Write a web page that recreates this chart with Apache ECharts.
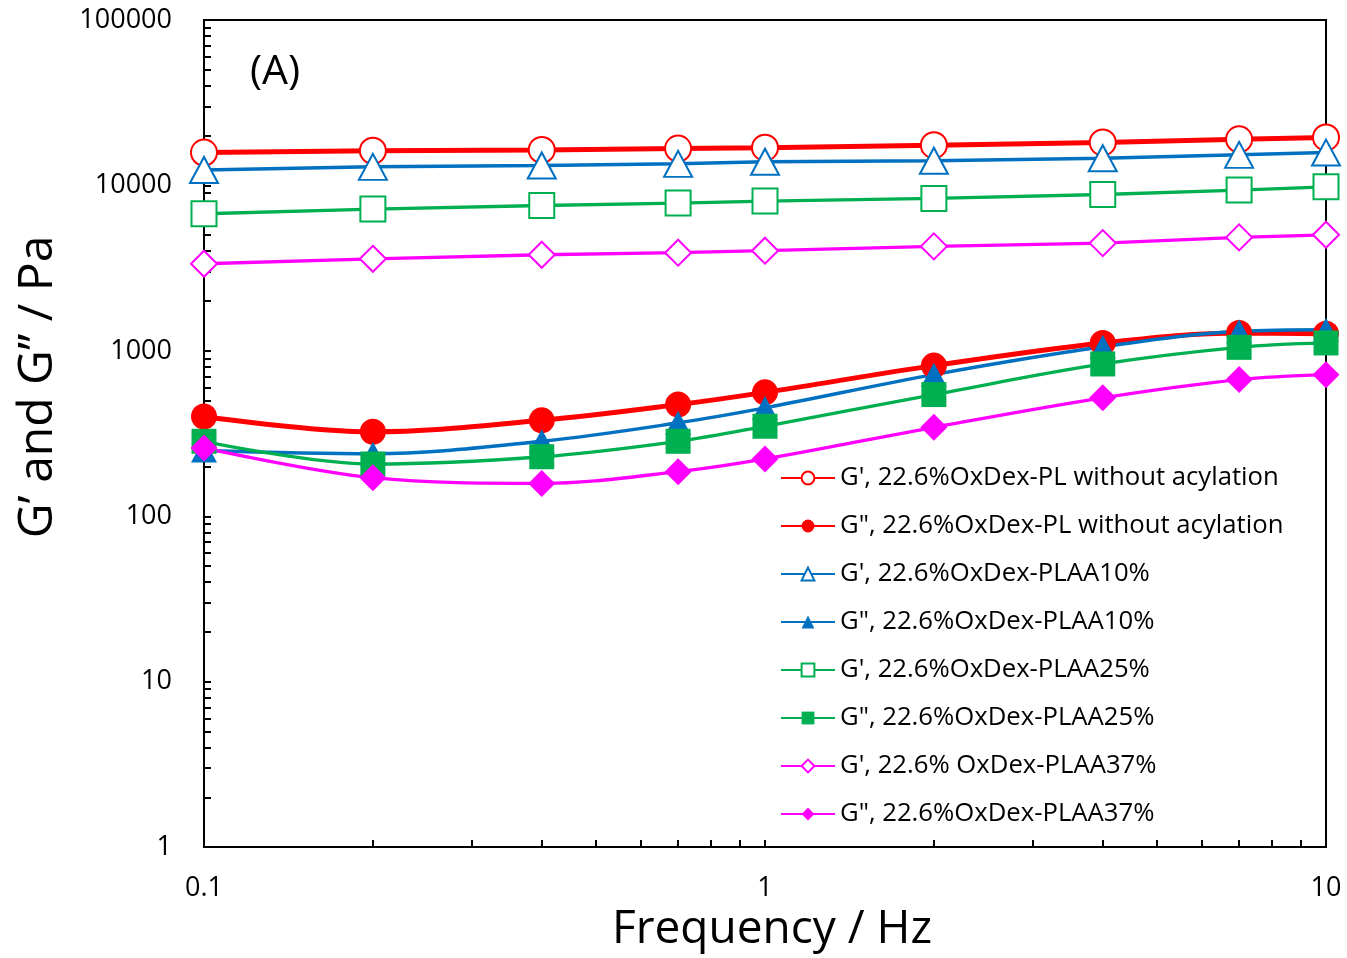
<!DOCTYPE html>
<html>
<head>
<meta charset="utf-8">
<script src="https://cdn.jsdelivr.net/npm/echarts@6/dist/echarts.min.js"></script>
<style>html,body{margin:0;padding:0;background:#fff}#c{width:1347px;height:958px}</style>
</head>
<body>
<div id="c"></div>
<script>
const freq = [0.1, 0.2, 0.4, 0.7, 1, 2, 4, 7, 10];
const gp_PL   = [15800, 16200, 16400, 16700, 16900, 17500, 18200, 19000, 19500];
const gpp_PL  = [401, 324, 380, 473, 561, 814, 1116, 1282, 1270];
const gp_10   = [12400, 12950, 13200, 13500, 13900, 14100, 14600, 15300, 15800];
const gpp_10  = [250, 239, 284, 367, 452, 718, 1057, 1312, 1343];
const gp_25   = [6740, 7190, 7560, 7820, 8040, 8340, 8810, 9370, 9800];
const gpp_25  = [284, 207, 229, 284, 350, 544, 833, 1050, 1116];
const gp_37   = [3360, 3600, 3810, 3920, 4030, 4280, 4480, 4850, 5030];
const gpp_37  = [259, 171, 158, 186, 222, 345, 520, 670, 718];
const names = [
  "G', 22.6%OxDex-PL without acylation",
  'G", 22.6%OxDex-PL without acylation',
  "G', 22.6%OxDex-PLAA10%",
  'G", 22.6%OxDex-PLAA10%',
  "G', 22.6%OxDex-PLAA25%",
  'G", 22.6%OxDex-PLAA25%',
  "G', 22.6% OxDex-PLAA37%",
  'G", 22.6%OxDex-PLAA37%'
];
const xTitle = 'Frequency / Hz';
const yTitle = 'G’ and G’’ / Pa';
const panelLabel = '(A)';
const FONT = 'Open Sans';
const RED = '#FF0000', BLUE = '#0070C0', GREEN = '#00B050', MAG = '#FF00FF';

function pts(arr) { return freq.map((f, i) => [f, arr[i]]); }
function ser(name, arr, color, symbol, size, open, width, smooth) {
  return {
    name: name, type: 'line', data: pts(arr), smooth: smooth ? 0.35 : false,
    symbol: symbol, symbolSize: size,
    lineStyle: { color: color, width: width },
    itemStyle: open ? { color: '#fff', borderColor: color, borderWidth: 2 } : { color: color, borderColor: color, borderWidth: 0 },
    emphasis: { disabled: true }
  };
}
const fmt = v => String(Number(Number(v).toPrecision(6)));

const chart = echarts.init(document.getElementById('c'), null, { renderer: 'canvas' });
chart.setOption({
  animation: false,
  backgroundColor: '#fff',
  grid: { left: 204, top: 20, right: 21, bottom: 110, show: true, borderColor: '#000', borderWidth: 2, backgroundColor: 'transparent' },
  xAxis: {
    type: 'log', logBase: 10, min: 0.1, max: 10,
    name: xTitle, nameLocation: 'middle', nameGap: 59,
    nameTextStyle: { fontFamily: FONT, fontSize: 46, color: '#000', verticalAlign: 'top', padding: [0, 0, 0, 14] },
    axisLine: { show: true, lineStyle: { color: '#000', width: 2 } },
    axisTick: { show: true, inside: true, length: 7, lineStyle: { color: '#000', width: 2 } },
    minorTick: { show: true, splitNumber: 9, length: 7, lineStyle: { color: '#000', width: 2 } },
    axisLabel: { fontFamily: FONT, fontSize: 27, color: '#000', margin: 28, formatter: fmt },
    splitLine: { show: false }
  },
  yAxis: {
    type: 'log', logBase: 10, min: 1, max: 100000,
    axisLine: { show: true, lineStyle: { color: '#000', width: 2 } },
    axisTick: { show: true, inside: true, length: 7, lineStyle: { color: '#000', width: 2 } },
    minorTick: { show: true, splitNumber: 9, length: 7, lineStyle: { color: '#000', width: 2 } },
    axisLabel: { fontFamily: FONT, fontSize: 27, color: '#000', margin: 32, formatter: fmt },
    splitLine: { show: false }
  },
  legend: {
    left: 780, top: 465, orient: 'vertical', padding: 0, itemGap: 22, itemWidth: 54, itemHeight: 16,
    textStyle: { fontFamily: FONT, fontSize: 25.7, color: '#000' },
    data: names
  },
  graphic: [
    { type: 'text', left: 250, top: 52, style: { text: panelLabel, font: '41px "Open Sans"', fill: '#000' } },
    { type: 'text', x: 38, y: 387, rotation: Math.PI / 2,
      style: { text: yTitle, font: '48px "Open Sans"', fill: '#000', textAlign: 'center', textVerticalAlign: 'middle' } }
  ],
  series: [
    ser(names[0], gp_PL, RED, 'circle', 26, true, 5, false),
    ser(names[1], gpp_PL, RED, 'circle', 26, false, 5, true),
    ser(names[2], gp_10, BLUE, 'triangle', [28, 26], true, 3.5, false),
    ser(names[3], gpp_10, BLUE, 'triangle', [26, 24], false, 3.5, true),
    ser(names[4], gp_25, GREEN, 'rect', 25, true, 3.3, false),
    ser(names[5], gpp_25, GREEN, 'rect', 25, false, 3.3, true),
    ser(names[6], gp_37, MAG, 'diamond', 26, true, 3.3, false),
    ser(names[7], gpp_37, MAG, 'diamond', 27, false, 3.3, true)
  ]
});
</script>
</body>
</html>
